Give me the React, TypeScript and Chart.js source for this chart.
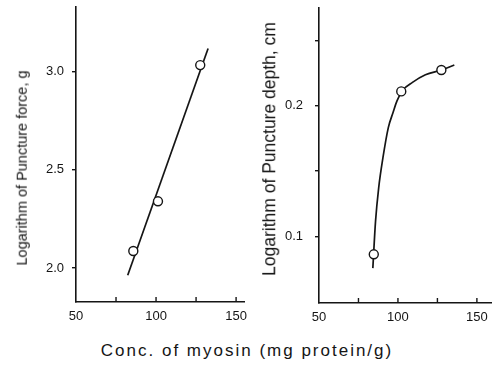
import React, { useEffect, useRef } from "react";
import { Chart, registerables } from "chart.js";

Chart.register(...registerables);

// Left panel: log puncture force vs myosin concentration
const forceConc = [85.8, 101.2, 127.6];
const forceLog = [2.087, 2.34, 3.034];
const forceFitConc = [82.3, 132.5];
const forceFitLog = [1.963, 3.119];
const forceYTicks = [2.0, 2.5, 3.0];
const forceYLabels = ["2.0", "2.5", "3.0"];

// Right panel: log puncture depth vs myosin concentration
const depthConc = [84.7, 102.1, 127.5];
const depthLog = [0.0863, 0.2111, 0.2275];
const depthFitConc = [84.1, 85.8, 87.8, 90.5, 93.9, 96.9, 99.4, 103.1, 109.2, 117.4, 127.5, 135.7];
const depthFitLog = [0.0757, 0.1115, 0.1372, 0.1603, 0.1834, 0.1949, 0.2038, 0.2121, 0.218, 0.2238, 0.2275, 0.2313];
const depthYTicks = [0.1, 0.15, 0.2, 0.25];
const depthYLabels = ["0.1", "", "0.2", ""];

// Shared x axis ticks
const concTicks = [50, 75, 100, 125, 150];
const concLabels = ["50", "", "100", "", "150"];

const INK = "#151515";
const FONT = "'Liberation Sans', Arial, sans-serif";

type PanelSpec = {
  px: number[];
  py: number[];
  fx: number[];
  fy: number[];
  xMin: number;
  xMax: number;
  yMin: number;
  yMax: number;
  yTicks: number[];
  yLabels: string[];
  yWidth: number;
  xHeight: number;
  top: number;
  right: number;
  yPad: number;
  smooth: boolean;
};

function innerTicks() {
  return {
    id: "innerTicks",
    afterDraw(chart: any) {
      const { ctx, chartArea, scales } = chart;
      const xs = scales.x;
      ctx.save();
      ctx.strokeStyle = INK;
      ctx.lineWidth = 1.4;
      concTicks.forEach((v) => {
        if (v <= xs.min) return;
        const p = xs.getPixelForValue(v);
        ctx.beginPath();
        ctx.moveTo(p, chartArea.bottom);
        ctx.lineTo(p, chartArea.bottom - 5);
        ctx.stroke();
      });
      ctx.restore();
    },
  };
}

function buildConfig(s: PanelSpec): any {
  const points = s.px.map((x, i) => ({ x, y: s.py[i] }));
  const fit = s.fx.map((x, i) => ({ x, y: s.fy[i] }));
  return {
    type: "scatter",
    data: {
      datasets: [
        {
          data: fit,
          showLine: true,
          borderColor: INK,
          borderWidth: 1.7,
          pointRadius: 0,
          tension: s.smooth ? 0.4 : 0,
          cubicInterpolationMode: s.smooth ? "monotone" : "default",
          order: 2,
        },
        {
          data: points,
          showLine: false,
          pointRadius: 4.5,
          pointBackgroundColor: "#fff",
          pointBorderColor: INK,
          pointBorderWidth: 1.4,
          order: 1,
        },
      ],
    },
    options: {
      animation: false,
      responsive: false,
      maintainAspectRatio: false,
      layout: { padding: { top: s.top, right: s.right, left: 0, bottom: 0 } },
      plugins: { legend: { display: false }, tooltip: { enabled: false } },
      scales: {
        x: {
          type: "linear",
          min: s.xMin,
          max: s.xMax,
          afterBuildTicks: (sc: any) => {
            sc.ticks = concTicks.map((v) => ({ value: v }));
          },
          afterFit: (sc: any) => {
            sc.height = s.xHeight;
            sc.paddingLeft = 0;
            sc.paddingRight = 0;
          },
          ticks: {
            autoSkip: false,
            maxRotation: 0,
            padding: 7,
            color: INK,
            font: { family: FONT, size: 13 },
            callback: (v: number) => {
              const i = concTicks.indexOf(v);
              return i >= 0 ? concLabels[i] : "";
            },
          },
          grid: { display: true, drawOnChartArea: false, drawTicks: false, color: INK },
          border: { display: true, color: INK, width: 1.6 },
        },
        y: {
          type: "linear",
          min: s.yMin,
          max: s.yMax,
          afterBuildTicks: (sc: any) => {
            sc.ticks = s.yTicks.map((v) => ({ value: v }));
          },
          afterFit: (sc: any) => {
            sc.width = s.yWidth;
            sc.paddingTop = 0;
            sc.paddingBottom = 0;
          },
          ticks: {
            autoSkip: false,
            padding: s.yPad,
            color: INK,
            font: { family: FONT, size: 13 },
            callback: (v: number) => {
              const i = s.yTicks.findIndex((t) => Math.abs(t - v) < 1e-9);
              return i >= 0 ? s.yLabels[i] : "";
            },
          },
          grid: {
            display: true,
            drawOnChartArea: false,
            drawTicks: true,
            tickLength: 4,
            color: INK,
            lineWidth: 1.4,
          },
          border: { display: true, color: INK, width: 1.6 },
        },
      },
    },
    plugins: [innerTicks()],
  };
}

function Panel({ spec, left, width, height }: { spec: PanelSpec; left: number; width: number; height: number }) {
  const ref = useRef<HTMLCanvasElement>(null);
  useEffect(() => {
    if (!ref.current) return;
    const chart = new Chart(ref.current, buildConfig(spec));
    return () => chart.destroy();
  }, []);
  return (
    <canvas
      ref={ref}
      width={width}
      height={height}
      style={{ position: "absolute", left, top: 0, width, height }}
    />
  );
}

const leftSpec: PanelSpec = {
  px: forceConc,
  py: forceLog,
  fx: forceFitConc,
  fy: forceFitLog,
  xMin: 50,
  xMax: 155,
  yMin: 1.827,
  yMax: 3.33,
  yTicks: forceYTicks,
  yLabels: forceYLabels,
  yWidth: 76,
  xHeight: 28,
  top: 7,
  right: 5,
  yPad: 8,
  smooth: false,
};

const rightSpec: PanelSpec = {
  px: depthConc,
  py: depthLog,
  fx: depthFitConc,
  fy: depthFitLog,
  xMin: 50,
  xMax: 159,
  yMin: 0.049,
  yMax: 0.275,
  yTicks: depthYTicks,
  yLabels: depthYLabels,
  yWidth: 69,
  xHeight: 27,
  top: 8,
  right: 1,
  yPad: 12,
  smooth: true,
};

function VTitle({ text, cx, cy, size }: { text: string; cx: number; cy: number; size: number }) {
  return (
    <div
      style={{
        position: "absolute",
        left: cx,
        top: cy,
        transform: "translate(-50%, -50%) rotate(-90deg)",
        whiteSpace: "nowrap",
        fontFamily: FONT,
        fontSize: size,
        color: INK,
        lineHeight: 1,
      }}
    >
      {text}
    </div>
  );
}

export default function App() {
  return (
    <div
      style={{
        position: "fixed",
        left: 0,
        top: 0,
        width: 497,
        height: 367,
        background: "#fff",
        overflow: "hidden",
      }}
    >
      <Panel spec={leftSpec} left={0} width={250} height={330} />
      <Panel spec={rightSpec} left={250} width={247} height={330} />
      <VTitle text="Logarithm of Puncture force, g" cx={22} cy={168} size={14.5} />
      <VTitle text="Logarithm of Puncture depth, cm" cx={270} cy={149} size={17.5} />
      <div
        style={{
          position: "absolute",
          left: 247,
          top: 350,
          transform: "translate(-50%, -50%)",
          whiteSpace: "nowrap",
          fontFamily: FONT,
          fontSize: 17,
          letterSpacing: 2,
          color: INK,
          lineHeight: 1,
        }}
      >
        Conc. of myosin (mg protein/g)
      </div>
    </div>
  );
}
